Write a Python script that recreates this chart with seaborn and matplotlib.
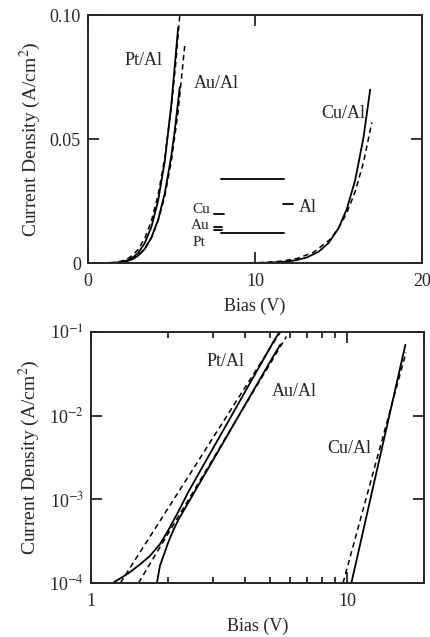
import numpy as np
import pandas as pd
import matplotlib
matplotlib.use("Agg")
import matplotlib.pyplot as plt
import matplotlib.ticker as mticker
import seaborn as sns

# measured J-V curves (solid)
pt_v = [1.22, 1.4, 1.55, 1.7, 1.86, 2.0, 2.2, 2.4, 2.7, 3.0, 3.4, 3.8, 4.2, 4.6, 5.0, 5.2, 5.4]
pt_j = [1.0e-4, 1.3e-4, 1.65e-4, 2.1e-4, 2.9e-4, 4.2e-4, 7.2e-4, 1.22e-3, 2.31e-3, 4.08e-3,
        8.0e-3, 1.46e-2, 2.51e-2, 4.10e-2, 6.44e-2, 7.96e-2, 9.5e-2]
au_v = [1.81, 1.86, 1.93, 2.0, 2.1, 2.2, 2.4, 2.7, 3.0, 3.4, 3.8, 4.2, 4.6, 5.0, 5.2, 5.5]
au_j = [1.0e-4, 1.6e-4, 2.2e-4, 3.0e-4, 4.3e-4, 5.75e-4, 9.1e-4, 1.69e-3, 2.94e-3, 5.69e-3,
        1.03e-2, 1.74e-2, 2.81e-2, 4.36e-2, 5.36e-2, 7.1e-2]
cu_v = [10.4, 10.8, 11.3, 11.9, 12.5, 13.1, 13.8, 14.4, 15.0, 15.5, 16.0, 16.5, 16.9]
cu_j = [1.0e-4, 1.66e-4, 3.06e-4, 6.15e-4, 1.20e-3, 2.25e-3, 4.54e-3, 8.05e-3, 1.40e-2,
        2.18e-2, 3.34e-2, 5.07e-2, 7.0e-2]

# fitted curves (dashed)
pt_fit_v = [1.304, 1.6, 1.8, 2.0, 2.3, 2.6, 3.0, 3.4, 3.8, 4.2, 4.6, 5.0, 5.25, 5.5]
pt_fit_j = [1.0e-4, 2.67e-4, 4.69e-4, 7.78e-4, 1.52e-3, 2.74e-3, 5.45e-3, 9.94e-3, 1.70e-2,
            2.74e-2, 4.24e-2, 6.33e-2, 8.0e-2, 0.1]
au_fit_v = [1.535, 1.8, 2.0, 2.3, 2.6, 3.0, 3.4, 3.8, 4.2, 4.6, 5.0, 5.4, 5.8]
au_fit_j = [1.0e-4, 2.26e-4, 3.86e-4, 7.87e-4, 1.47e-3, 3.05e-3, 5.78e-3, 1.02e-2, 1.70e-2,
            2.70e-2, 4.13e-2, 6.11e-2, 8.8e-2]
cu_fit_v = [9.65, 10.5, 11.5, 12.5, 13.5, 14.5, 15.0, 15.5, 16.0, 16.5, 17.0]
cu_fit_j = [1.0e-4, 2.57e-4, 7.13e-4, 1.82e-3, 4.30e-3, 9.57e-3, 1.40e-2, 2.02e-2, 2.88e-2,
            4.06e-2, 5.68e-2]

# energy level sketch in the top panel (x span, level)
band_x = [[7.97, 11.73], [7.97, 11.73], [7.52, 8.13], [7.52, 8.05], [7.52, 8.05], [11.69, 12.29]]
band_y = [0.0339, 0.0120, 0.0200, 0.0146, 0.0133, 0.0237]

sns.set_style("ticks")
plt.rcParams['font.family'] = ['Liberation Serif', 'DejaVu Serif']
plt.rcParams['mathtext.fontset'] = 'stix'
plt.rcParams['xtick.direction'] = 'in'
plt.rcParams['ytick.direction'] = 'in'

fig = plt.figure(figsize=(4.31, 6.37), dpi=100)
ax1 = fig.add_axes([0.204, 0.587, 0.775, 0.389])
ax2 = fig.add_axes([0.211, 0.085, 0.773, 0.394])

solid = [(pt_v, pt_j), (au_v, au_j), (cu_v, cu_j)]
dashed = [(pt_fit_v, pt_fit_j), (au_fit_v, au_fit_j), (cu_fit_v, cu_fit_j)]

for ax in (ax1, ax2):
    for v, j in solid:
        d = pd.DataFrame({'V': v, 'J': j})
        sns.lineplot(data=d, x='V', y='J', ax=ax, color='black', lw=1.3,
                     sort=False, estimator=None)
    for v, j in dashed:
        d = pd.DataFrame({'V': v, 'J': j})
        sns.lineplot(data=d, x='V', y='J', ax=ax, color='black', lw=1.1,
                     linestyle=(0, (3.5, 2.5)), sort=False, estimator=None)
    for s in ax.spines.values():
        s.set_linewidth(1.4)
    ax.tick_params(which='both', top=True, right=True, width=1.3, labelsize=13)
    ax.tick_params(which='major', length=8)
    ax.tick_params(which='minor', length=4)
    ax.tick_params(axis='x', which='major', pad=7)
    ax.tick_params(axis='y', which='major', pad=5)
    ax.set_xlabel('Bias (V)', fontsize=13, labelpad=6)
    ax.set_ylabel('Current Density (A/cm$^2$)', fontsize=14, labelpad=5)

# top panel: linear
for bx, by in zip(band_x, band_y):
    ax1.plot(bx, [by, by], color='black', lw=1.3)
ax1.set_xlim(0, 20)
ax1.set_ylim(0, 0.10)
ax1.set_xticks([0, 10, 20])
ax1.set_yticks([0, 0.05, 0.10])
ax1.set_yticklabels(['0', '0.05', '0.10'])
lab = dict(ha='center', va='center', fontsize=13)
ax1.text(3.33, 0.0819, 'Pt/Al', **lab)
ax1.text(7.66, 0.0725, 'Au/Al', **lab)
ax1.text(15.3, 0.0604, 'Cu/Al', **lab)
small = dict(va='center', fontsize=11)
ax1.text(7.3, 0.0216, 'Cu', ha='right', **small)
ax1.text(7.3, 0.0150, 'Au', ha='right', **small)
ax1.text(6.65, 0.0083, 'Pt', ha='center', **small)
ax1.text(12.6, 0.0226, 'Al', ha='left', fontsize=13, va='center')

# bottom panel: log-log
ax2.set_xscale('log')
ax2.set_yscale('log')
ax2.set_xlim(1, 20)
ax2.set_ylim(1e-4, 1e-1)
ax2.xaxis.set_major_locator(mticker.FixedLocator([1, 10]))
ax2.xaxis.set_major_formatter(mticker.FixedFormatter(['1', '10']))
ax2.xaxis.set_minor_locator(mticker.LogLocator(base=10, subs=np.arange(2, 10)))
ax2.xaxis.set_minor_formatter(mticker.NullFormatter())
ax2.yaxis.set_major_locator(mticker.FixedLocator([1e-4, 1e-3, 1e-2, 1e-1]))
ax2.yaxis.set_major_formatter(mticker.FixedFormatter(
    ['10$^{-4}$', '10$^{-3}$', '10$^{-2}$', '10$^{-1}$']))
ax2.yaxis.set_minor_locator(mticker.NullLocator())
ax2.text(3.34, 0.0442, 'Pt/Al', **lab)
ax2.text(6.2, 0.0194, 'Au/Al', **lab)
ax2.text(10.2, 0.00407, 'Cu/Al', **lab)

fig.savefig('out.png', dpi=100)
